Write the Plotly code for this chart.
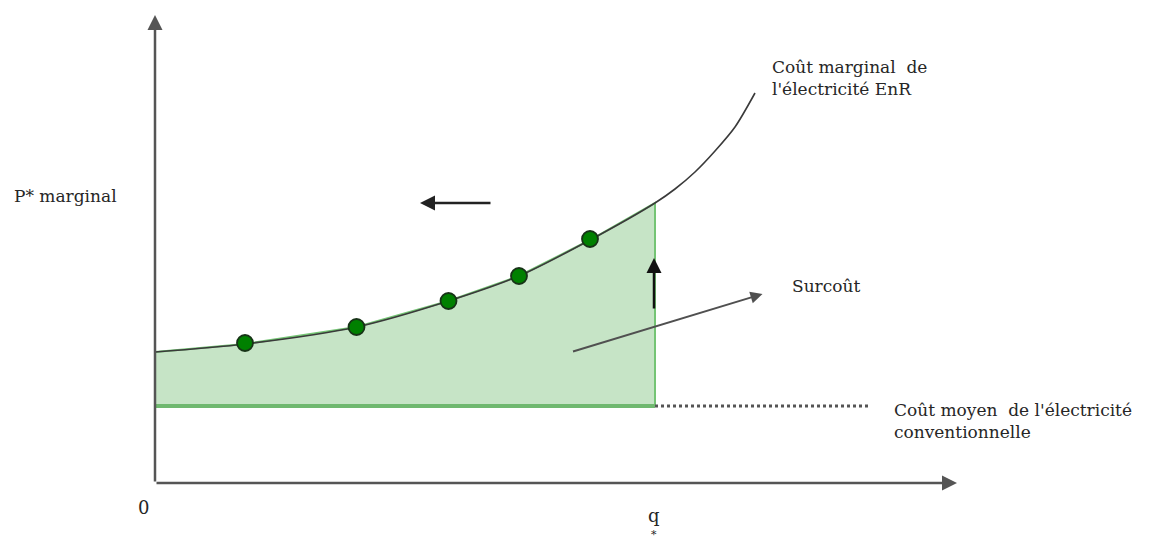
import plotly.graph_objects as go

# marginal cost curve of renewable electricity (q units, price units)
curve_x = [0, 1.8, 4.03, 5.87, 7.28, 8.7, 10.0, 10.4, 10.8, 11.2, 11.6, 12.0]
curve_y = [13.1, 13.9, 15.6, 18.2, 20.7, 24.3, 28.0, 29.4, 31.1, 33.2, 35.6, 39.0]

# observed points on the curve
pts_x = [1.8, 4.03, 5.87, 7.28, 8.7]
pts_y = [14.0, 15.6, 18.2, 20.7, 24.4]

q_star = 10.0
cout_moyen = 7.7      # average cost of conventional electricity
dotted_end = 14.3

fill_x = [x for x in curve_x if x <= q_star] + [q_star, 0]
fill_y = [y for x, y in zip(curve_x, curve_y) if x <= q_star] + [cout_moyen, cout_moyen]

fig = go.Figure()

# surcoût area
fig.add_trace(go.Scatter(x=fill_x, y=fill_y, fill="toself", mode="lines",
                         fillcolor="rgba(168,214,168,0.65)",
                         line=dict(color="#74c474", width=2), hoverinfo="skip"))

# baseline (conventional average cost)
fig.add_trace(go.Scatter(x=[0, q_star], y=[cout_moyen, cout_moyen], mode="lines",
                         line=dict(color="#6fb86f", width=4), hoverinfo="skip"))
fig.add_trace(go.Scatter(x=[q_star, dotted_end], y=[cout_moyen, cout_moyen], mode="lines",
                         line=dict(color="#555555", width=3, dash="dot"), hoverinfo="skip"))

# marginal cost curve
fig.add_trace(go.Scatter(x=curve_x, y=curve_y, mode="lines", line_shape="spline",
                         line=dict(color="#3a3a3a", width=1.6, smoothing=0.8), hoverinfo="skip"))

fig.add_trace(go.Scatter(x=pts_x, y=pts_y, mode="markers",
                         marker=dict(color="#008000", size=16,
                                     line=dict(color="#173317", width=1.8)),
                         hoverinfo="skip"))

def arrow(x0, y0, x1, y1, color, width):
    fig.add_annotation(x=x1, y=y1, ax=x0, ay=y0, xref="x", yref="y", axref="x", ayref="y",
                       text="", showarrow=True, arrowhead=2, arrowsize=1.2,
                       arrowwidth=width, arrowcolor=color, standoff=0, startstandoff=0)

# axes
arrow(0, 0, 0, 46.8, "#555555", 2.5)
arrow(0, 0, 16.04, 0, "#555555", 2.5)

# other arrows
arrow(6.74, 28.0, 5.3, 28.0, "#222222", 2.5)
arrow(9.98, 17.3, 9.98, 22.5, "#111111", 2.5)
arrow(8.33, 13.1, 12.15, 18.9, "#505050", 2)

font = dict(family="DejaVu Serif", size=17, color="#262626")

def label(x, y, text, xanchor="left", size=17):
    fig.add_annotation(x=x, y=y, xref="x", yref="y", text=text, showarrow=False,
                       xanchor=xanchor, yanchor="middle", align="left",
                       font=dict(font, size=size))

label(12.3, 40.55, "Coût marginal  de<br>l'électricité EnR")
label(-2.86, 28.7, "P* marginal")
label(12.7, 19.7, "Surcoût")
label(14.74, 6.25, "Coût moyen  de l'électricité<br>conventionnelle")
label(-0.24, -2.4, "0", xanchor="center", size=18)
label(9.98, -3.2, "q", xanchor="center", size=18)
label(9.98, -5.1, "*", xanchor="center", size=11)

# page body has an 8px margin, so the plot is laid out in 1151x533
fig.update_xaxes(range=[-2.94, 20.08], visible=False)
fig.update_yaxes(range=[-5.8, 47.5], visible=False)
fig.update_layout(width=1151, height=533, margin=dict(l=0, r=0, t=0, b=0),
                  showlegend=False, plot_bgcolor="white", paper_bgcolor="white")

fig.write_html("out.html")
